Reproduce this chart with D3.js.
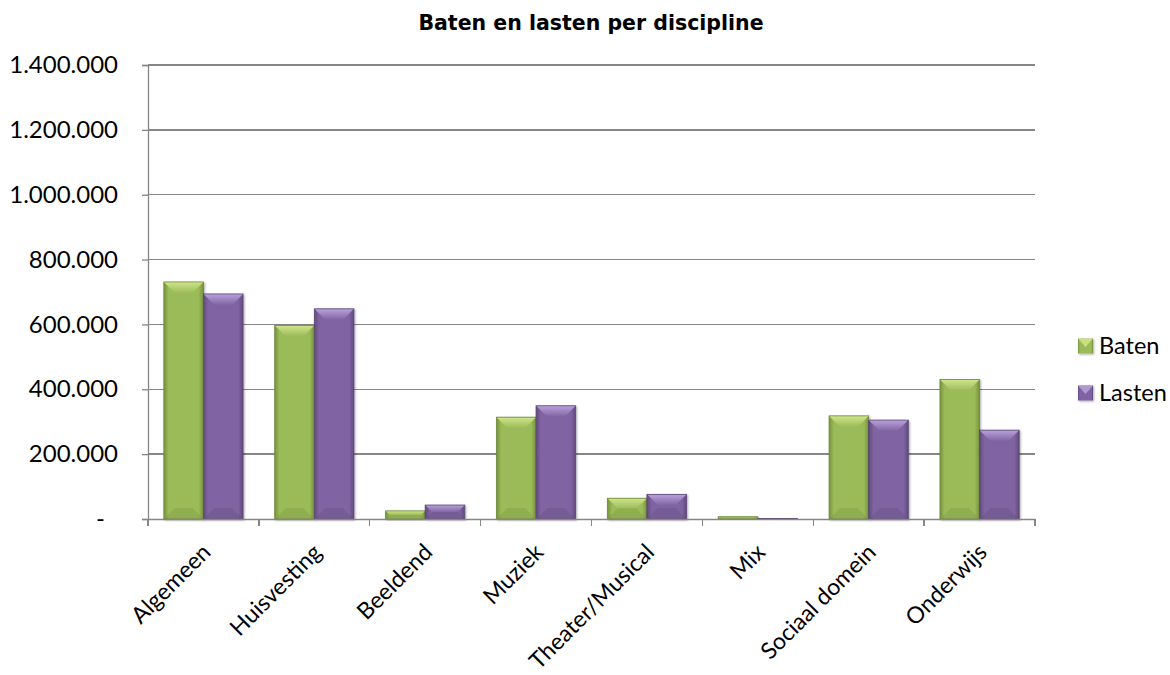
<!DOCTYPE html>
<html><head><meta charset="utf-8">
<script src="https://cdn.jsdelivr.net/npm/d3@7/dist/d3.min.js"></script>
<style>
html,body{margin:0;padding:0;background:#fff;}
svg{display:block;}
</style></head>
<body>
<svg id="chart" width="1170" height="675"></svg>
<script>
const categories = ["Algemeen","Huisvesting","Beeldend","Muziek","Theater/Musical","Mix","Sociaal domein","Onderwijs"];
const seriesNames = ["Baten","Lasten"];
const baten  = [731000, 597000, 25000, 314000, 64000, 7000, 318000, 430000];
const lasten = [694000, 648000, 43000, 349000, 76000, 2000, 305000, 274000];
const yTicks = [0,200000,400000,600000,800000,1000000,1200000,1400000];
const title = "Baten en lasten per discipline";

const colors = {
  Baten:  {base:"#9bbb59", light:"#d3e88e", dark:"#76923c", edge:"#6f8a3a"},
  Lasten: {base:"#8064a2", light:"#bca6de", dark:"#5f4a7b", edge:"#5a4675"}
};

const svg = d3.select("#chart");
const m = {left:148, right:1035, top:65, bottom:519};
const FONT = "Lato, 'Open Sans', sans-serif";

const x0 = d3.scaleBand().domain(categories).range([m.left, m.right]).paddingInner(0).paddingOuter(0);
const x1 = d3.scaleBand().domain(seriesNames).range([0, x0.bandwidth()]).paddingInner(0).paddingOuter(0.4);
const y = d3.scaleLinear().domain([0,1400000]).range([m.bottom, m.top]);

const nl = d3.formatLocale({decimal:",", thousands:".", grouping:[3], currency:["",""]});
const fmt = nl.format(",d");

const defs = svg.append("defs");
seriesNames.forEach(s=>{
  const g = defs.append("linearGradient").attr("id","g_"+s).attr("x1","0").attr("x2","1").attr("y1","0").attr("y2","0");
  g.append("stop").attr("offset","0").attr("stop-color",colors[s].dark);
  g.append("stop").attr("offset","0.12").attr("stop-color",colors[s].base);
  g.append("stop").attr("offset","0.88").attr("stop-color",colors[s].base);
  g.append("stop").attr("offset","1").attr("stop-color",colors[s].dark);
  const t = defs.append("linearGradient").attr("id","t_"+s).attr("x1","0").attr("x2","0").attr("y1","0").attr("y2","1");
  t.append("stop").attr("offset","0").attr("stop-color",colors[s].light);
  t.append("stop").attr("offset","1").attr("stop-color",colors[s].base);
});
const filt = defs.append("filter").attr("id","shadow").attr("x","-20%").attr("y","-20%").attr("width","140%").attr("height","140%");
filt.append("feDropShadow").attr("dx",1).attr("dy",1).attr("stdDeviation",1.2).attr("flood-color","#000").attr("flood-opacity",0.35);

// title
svg.append("text").attr("x", 591).attr("y", 30).attr("text-anchor","middle")
  .attr("font-family","DejaVu Sans, Verdana, sans-serif").attr("font-weight","bold").attr("font-size",20.5)
  .attr("fill","#000").text(title);

// gridlines
svg.append("g").selectAll("line").data(yTicks.filter(d=>d>0)).join("line")
  .attr("x1", m.left).attr("x2", m.right).attr("y1", d=>y(d)).attr("y2", d=>y(d))
  .attr("stroke","#868686").attr("stroke-width",1.3).attr("shape-rendering","crispEdges");

// y axis
const yAxis = d3.axisLeft(y).tickValues(yTicks).tickSize(6).tickPadding(24)
  .tickFormat(d=> d===0 ? "-" : fmt(d));
const yg = svg.append("g").attr("transform",`translate(${m.left},0)`).call(yAxis);
yg.select(".domain").attr("stroke","#868686").attr("stroke-width",1.3);
yg.selectAll(".tick line").attr("stroke","#868686").attr("stroke-width",1.3);
yg.selectAll(".tick text").attr("font-family",FONT).attr("font-size",24).attr("fill","#000")
  .attr("dx", d=> d===0 ? -13 : 0);

// bars
const groups = svg.append("g").selectAll("g").data(categories).join("g")
  .attr("transform", d=>`translate(${x0(d)},0)`);
const barData = (c,i)=>seriesNames.map(s=>({s, v: s==="Baten"?baten[i]:lasten[i]}));
groups.each(function(c,i){
  const g = d3.select(this);
  barData(c,i).forEach(d=>{
    const bx = x1(d.s), bw = x1.bandwidth();
    const top = y(d.v), bot = y(0), h = bot-top;
    const b = Math.min(11, h/2, bw/2);
    const bar = g.append("g").attr("filter","url(#shadow)");
    bar.append("rect").attr("x",bx).attr("y",top).attr("width",bw).attr("height",h)
      .attr("fill",`url(#g_${d.s})`);
    bar.append("polygon").attr("points",[[bx,top],[bx+bw,top],[bx+bw-b,top+b],[bx+b,top+b]].map(p=>p.join(",")).join(" "))
      .attr("fill",`url(#t_${d.s})`).attr("opacity",0.95);
    bar.append("polygon").attr("points",[[bx,bot],[bx+bw,bot],[bx+bw-b,bot-b],[bx+b,bot-b]].map(p=>p.join(",")).join(" "))
      .attr("fill",colors[d.s].dark).attr("opacity",0.3);
    bar.append("rect").attr("x",bx).attr("y",top).attr("width",bw).attr("height",h)
      .attr("fill","none").attr("stroke",colors[d.s].edge).attr("stroke-width",0.8);
  });
});

// x axis
const xAxis = d3.axisBottom(x0).tickSize(0).tickFormat("");
const xg = svg.append("g").attr("transform",`translate(0,${m.bottom})`).call(xAxis);
xg.select(".domain").attr("stroke","#868686").attr("stroke-width",1.3);
const bounds = categories.map(c=>x0(c)).concat([m.right]);
svg.append("g").selectAll("line").data(bounds).join("line")
  .attr("x1",d=>d).attr("x2",d=>d).attr("y1",m.bottom).attr("y2",m.bottom+7)
  .attr("stroke","#868686").attr("stroke-width",1.3).attr("shape-rendering","crispEdges");
svg.append("g").selectAll("text").data(categories).join("text")
  .attr("transform", d=>`translate(${x0(d)+x0.bandwidth()/2+3},${m.bottom+29}) rotate(-45)`)
  .attr("text-anchor","end").attr("dy","0.35em")
  .attr("font-family",FONT).attr("font-size",23).attr("fill","#000")
  .text(d=>d);

// legend
const lg = svg.append("g");
seriesNames.forEach((s,i)=>{
  const ly = 346 + i*47;
  const sz = 15, lx = 1078;
  const gg = lg.append("g").attr("filter","url(#shadow)");
  gg.append("rect").attr("x",lx).attr("y",ly-sz/2).attr("width",sz).attr("height",sz).attr("fill",`url(#g_${s})`);
  gg.append("polygon").attr("points",[[lx,ly-sz/2],[lx+sz,ly-sz/2],[lx+sz/2,ly+1]].map(p=>p.join(",")).join(" "))
    .attr("fill",colors[s].light).attr("opacity",0.8);
  lg.append("text").attr("x",lx+sz+6).attr("y",ly).attr("dy","0.35em")
    .attr("font-family",FONT).attr("font-size",23.5).attr("fill","#000").text(s);
});
</script>
</body></html>
